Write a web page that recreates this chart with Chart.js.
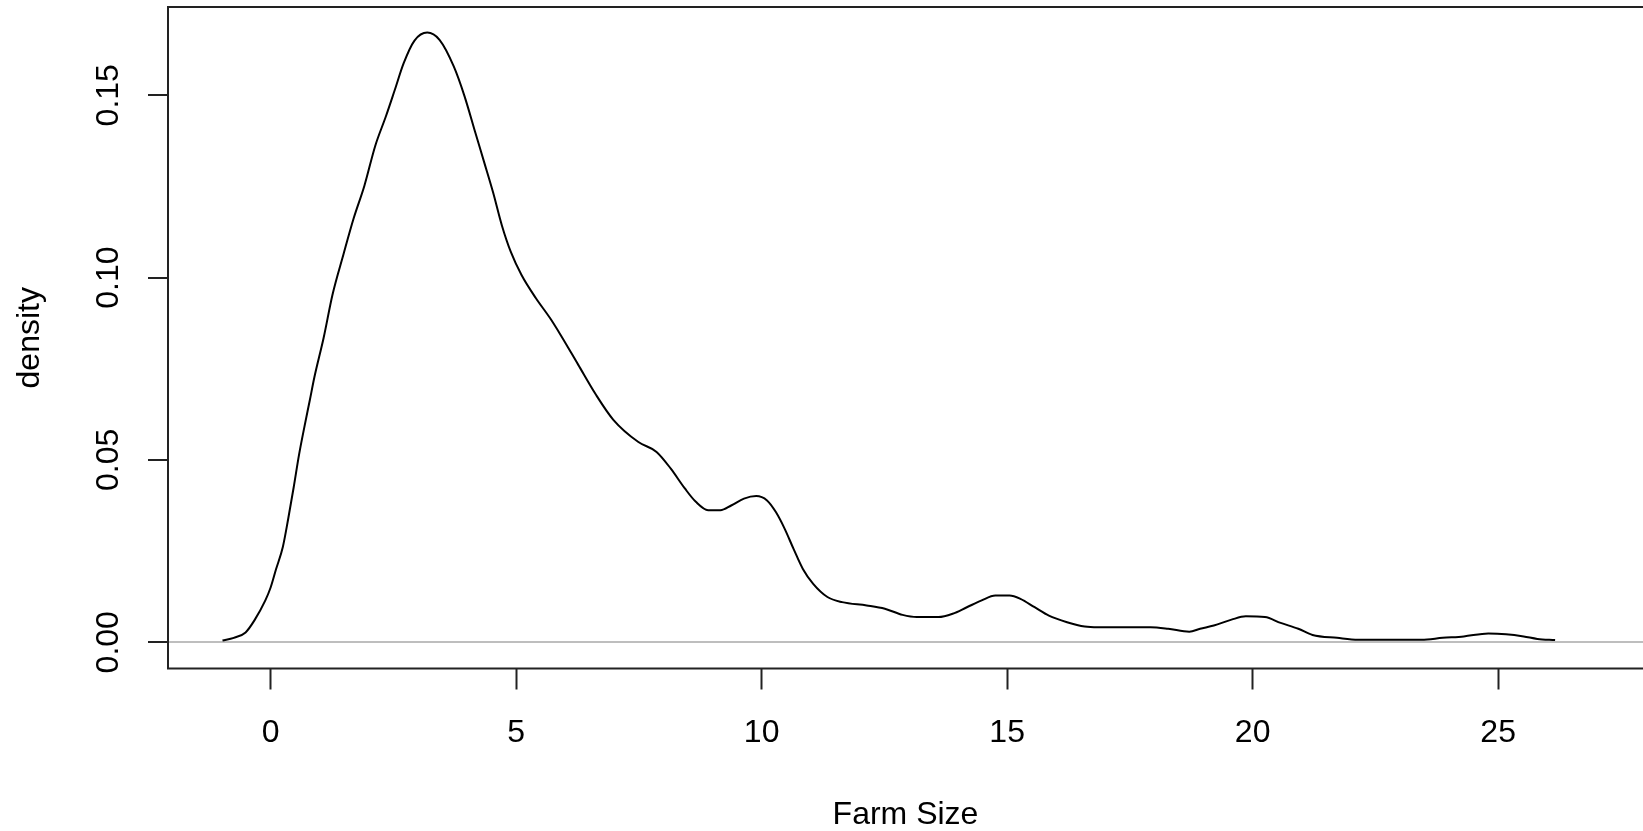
<!DOCTYPE html>
<html lang="en">
<head>
  <meta charset="UTF-8" />
  <title>Farm Size – density</title>
  <script src="https://cdn.jsdelivr.net/npm/chart.js"></script>
  <style>
    html, body { margin: 0; padding: 0; background: #fff; }
    .wrap { width: 1643px; height: 831px; }
  </style>
</head>
<body>
  <div class="wrap"><canvas id="chart-density"></canvas></div>

  <script>
    // kernel density of farm size
    const farmSize = [
      -0.98, -0.75, -0.51, -0.33, -0.11, 0.00, 0.11, 0.25, 0.36, 0.47,
      0.58, 0.69, 0.80, 0.89, 1.08, 1.26, 1.48, 1.69, 1.91, 2.13,
      2.35, 2.53, 2.71, 2.93, 3.19, 3.44, 3.73, 3.95, 4.17, 4.35,
      4.53, 4.71, 4.89, 5.11, 5.40, 5.69, 5.90, 6.26, 6.62, 6.98,
      7.49, 7.86, 8.15, 8.44, 8.66, 8.91, 9.16, 9.38, 9.64, 9.89,
      10.11, 10.29, 10.47, 10.65, 10.84, 11.05, 11.34, 11.64, 12.14, 12.51,
      12.87, 13.16, 13.60, 13.89, 14.18, 14.47, 14.76, 15.05, 15.27, 15.56,
      15.85, 16.22, 16.58, 16.85, 17.92, 18.28, 18.71, 18.93, 19.21, 19.57,
      19.86, 20.25, 20.57, 20.93, 21.22, 21.72, 22.15, 23.44, 23.87, 24.30,
      24.80, 25.16, 25.52, 25.80, 26.16
    ];
    const density = [
      0.0005, 0.0012, 0.0027, 0.0060, 0.0114, 0.0150, 0.0200, 0.0262, 0.0340, 0.0425,
      0.0515, 0.0592, 0.0665, 0.0726, 0.0835, 0.0953, 0.1062, 0.1162, 0.1252, 0.1361,
      0.1443, 0.1515, 0.1588, 0.1650, 0.1672, 0.1652, 0.1579, 0.1497, 0.1397, 0.1316,
      0.1234, 0.1143, 0.1071, 0.1007, 0.0944, 0.0889, 0.0844, 0.0762, 0.0680, 0.0610,
      0.0549, 0.0522, 0.0476, 0.0421, 0.0385, 0.0362, 0.0362, 0.0375, 0.0394, 0.0401,
      0.0389, 0.0357, 0.0311, 0.0256, 0.0201, 0.0160, 0.0124, 0.0110, 0.0101, 0.0092,
      0.0075, 0.0069, 0.0069, 0.0078, 0.0096, 0.0114, 0.0128, 0.0128, 0.0119, 0.0096,
      0.0073, 0.0055, 0.0043, 0.0041, 0.0041, 0.0037, 0.0029, 0.0037, 0.0046, 0.0062,
      0.0071, 0.0069, 0.0053, 0.0037, 0.0020, 0.0012, 0.0007, 0.0007, 0.0012, 0.0016,
      0.0024, 0.0022, 0.0016, 0.0009, 0.0006
    ];
    const xTicks = [0, 5, 10, 15, 20, 25];
    const yTicks = [0, 0.05, 0.10, 0.15];

    const family = "'Liberation Sans', Arial, sans-serif";
    const ink = '#222';

    // R style box (left/top/bottom, the right side is cut off) + rotated y labels
    const frame = {
      id: 'frame',
      afterDraw(chart) {
        const { ctx, chartArea: a } = chart;
        ctx.save();
        ctx.strokeStyle = ink;
        ctx.lineWidth = 2;
        ctx.beginPath();
        ctx.moveTo(chart.width, a.top);
        ctx.lineTo(a.left, a.top);
        ctx.lineTo(a.left, a.bottom);
        ctx.lineTo(chart.width, a.bottom);
        ctx.stroke();

        const y = chart.scales.y;
        ctx.fillStyle = '#000';
        ctx.font = '32px ' + family;
        ctx.textAlign = 'center';
        ctx.textBaseline = 'middle';
        yTicks.forEach(v => {
          ctx.save();
          ctx.translate(109, y.getPixelForValue(v));
          ctx.rotate(-Math.PI / 2);
          ctx.fillText(v.toFixed(2), 0, 0);
          ctx.restore();
        });
        ctx.restore();
      }
    };

    new Chart(document.getElementById('chart-density'), {
      type: 'line',
      data: {
        datasets: [{
          data: farmSize.map((x, i) => ({ x: x, y: density[i] })),
          borderColor: '#000',
          borderWidth: 2,
          pointRadius: 0,
          cubicInterpolationMode: 'monotone',
          fill: false
        }]
      },
      options: {
        responsive: true,
        maintainAspectRatio: false,
        animation: false,
        layout: { padding: { top: 7, right: 0, bottom: 0, left: 0 } },
        plugins: { legend: { display: false }, tooltip: { enabled: false } },
        scales: {
          x: {
            type: 'linear',
            min: -2.09,
            max: 27.95,
            afterBuildTicks: s => { s.ticks = xTicks.map(v => ({ value: v })); },
            afterFit: s => { s.height = 162.5; },
            grid: { drawOnChartArea: false, tickLength: 21, tickColor: ink, tickWidth: 2 },
            border: { display: false },
            ticks: { color: '#000', font: { family: family, size: 32 }, padding: 24, maxRotation: 0, autoSkip: false },
            title: {
              display: true, text: 'Farm Size', color: '#000',
              font: { family: family, size: 32, lineHeight: 1.0 }, padding: 0
            }
          },
          y: {
            type: 'linear',
            min: -0.0072,
            max: 0.1742,
            afterBuildTicks: s => { s.ticks = yTicks.map(v => ({ value: v })); },
            afterFit: s => { s.width = 168; },
            grid: {
              color: c => (c.tick && c.tick.value === 0 ? '#bebebe' : 'transparent'),
              lineWidth: 2, tickLength: 20, tickColor: ink, tickWidth: 2
            },
            border: { display: false },
            ticks: { display: false },
            title: {
              display: true, text: 'density', color: '#000',
              font: { family: family, size: 32, lineHeight: 1.2 }, padding: { top: 11, bottom: 0 }
            }
          }
        }
      },
      plugins: [frame]
    });
  </script>
</body>
</html>
